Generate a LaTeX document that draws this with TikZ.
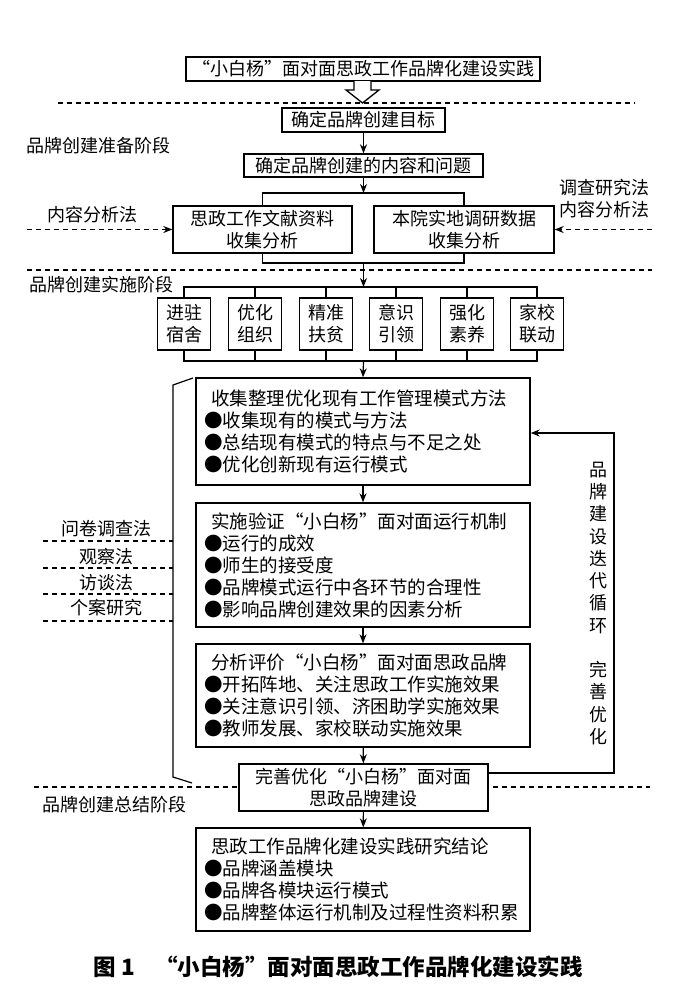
\documentclass[tikz,border=0pt]{standalone}
\usepackage{fontspec}
\setmainfont{Noto Sans CJK SC}
\usetikzlibrary{arrows.meta}
\newcommand\fsz{\fontsize{18pt}{22pt}\selectfont}
\newcommand\fszb{\fontsize{18.5pt}{22pt}\selectfont}
\tikzset{
  box/.style={draw, line width=1.4pt, fill=white, inner sep=0pt, font=\fsz, align=center},
  bigbox/.style={draw, line width=1.4pt, fill=white, inner xsep=8pt, inner ysep=0pt, font=\fszb,
     text width=318pt, align=left, minimum width=334pt},
  conn/.style={line width=1.2pt},
  arr/.style={conn, -{Stealth[length=9pt,width=7pt]}},
  dline/.style={line width=1.2pt, dash pattern=on 5pt off 4pt},
  lbl/.style={font=\fsz, inner sep=0pt, align=center},
}
\begin{document}
\begin{tikzpicture}[x=1pt,y=-1pt]
\path[use as bounding box] (0,0) rectangle (700,999);

% dashed separators
\draw[dline] (58,103) -- (635,103);
\draw[dline] (27,270) -- (652,270);
\draw[dline] (34,787) -- (650,787);

% title
\node[box, minimum width=354pt, minimum height=24pt] (t) at (363,69) {“小白杨”面对面思政工作品牌化建设实践};
\draw[line width=1.3pt, fill=white] (354,81) -- (354,90) -- (346,90) -- (362.5,103) -- (379,90) -- (371,90) -- (371,81);

% preparation stage
\node[lbl] (p1) at (99,146) {品牌创建准备阶段};
\node[box, minimum width=163pt, minimum height=24pt] (g1) at (363.5,120) {确定品牌创建目标};
\node[box, minimum width=239pt, minimum height=23pt] (g2) at (363.5,165.5) {确定品牌创建的内容和问题};
\draw[arr] (g1) -- (g2);
\coordinate (j1) at (363.5,193);
\draw[arr] (g2) -- (j1);
\node[box, minimum width=179pt, minimum height=47pt] (L) at (262.5,229.5) {思政工作文献资料\\收集分析};
\node[box, minimum width=180pt, minimum height=47pt] (R) at (464,229.5) {本院实地调研数据\\收集分析};
\draw[conn] (L.north) |- (j1) -| (R.north);
\coordinate (j2) at (363.5,263);
\draw[conn] (L.south) |- (j2) -| (R.south);
\coordinate (j3) at (363.5,287);
\draw[arr] (j2) -- (j3);

\node[lbl] (m1) at (92,215) {内容分析法};
\node[lbl] (m2) at (604,199) {调查研究法\\内容分析法};
\coordinate (la) at (27,229.5);
\coordinate (ra) at (652,229.5);
\draw[dline, -{Stealth[length=9pt,width=7pt]}] (la) -- (L.west);
\draw[dline, -{Stealth[length=9pt,width=7pt]}] (ra) -- (R.east);

% implementation stage
\node[lbl] (p2) at (101,285) {品牌创建实施阶段};
\foreach \n/\x/\txt in {1/184/进驻\\宿舍, 2/255/优化\\组织, 3/326/精准\\扶贫, 4/396/意识\\引领, 5/467/强化\\素养, 6/537/家校\\联动}{
  \node[box, minimum width=53pt, minimum height=52pt] (s\n) at (\x,324) {\txt};
}
\coordinate (j4) at (363.5,361);
\draw[conn] (s1.north) |- (j3) -| (s6.north);
\draw[conn] (s1.south) |- (j4) -| (s6.south);
\foreach \n in {2,3,4,5}{
  \draw[conn] (s\n.north) -- (s\n.north |- j3);
  \draw[conn] (s\n.south) -- (s\n.south |- j4);
}

\node[bigbox, minimum height=107pt] (b1) at (363,431.5) {\hspace{7pt}收集整理优化现有工作管理模式方法\\●收集现有的模式与方法\\●总结现有模式的特点与不足之处\\●优化创新现有运行模式};
\draw[arr] (j4) -- (b1.north);
\node[bigbox, minimum height=124pt] (b2) at (363,565) {\hspace{7pt}实施验证“小白杨”面对面运行机制\\●运行的成效\\●师生的接受度\\●品牌模式运行中各环节的合理性\\●影响品牌创建效果的因素分析};
\node[bigbox, minimum height=103pt] (b3) at (363,695.5) {\hspace{7pt}分析评价“小白杨”面对面思政品牌\\●开拓阵地、关注思政工作实施效果\\●关注意识引领、济困助学实施效果\\●教师发展、家校联动实施效果};
\node[box, minimum width=249pt, minimum height=47pt] (b4) at (363.5,787.5) {完善优化“小白杨”面对面\\思政品牌建设};
\node[bigbox, minimum height=103pt] (b5) at (363,879.5) {\hspace{7pt}思政工作品牌化建设实践研究结论\\●品牌涵盖模块\\●品牌各模块运行模式\\●品牌整体运行机制及过程性资料积累};
\draw[arr] (b1) -- (b2);
\draw[arr] (b2) -- (b3);
\draw[arr] (b3) -- (b4);
\draw[arr] (b4) -- (b5);

% iteration loop
\coordinate (lp1) at (614,773);
\coordinate (lp2) at (614,433);
\draw[arr] (b4.east |- lp1) -- (lp1) -- (lp2) -- (b1.east |- lp2);
\node[lbl, font=\fontsize{18pt}{22.25pt}\selectfont] (vt) at (598,603.5) {品\\牌\\建\\设\\迭\\代\\循\\环\\\phantom{完}\\完\\善\\优\\化};

% left bracket and methods
\coordinate (bk1) at (193,378);
\coordinate (bk2) at (173,385);
\coordinate (bk3) at (173,777);
\coordinate (bk4) at (192,783);
\draw[conn] (bk1) -- (bk2) -- (bk3) -- (bk4);
\foreach \y/\ly/\txt in {541/529/问卷调查法, 568/557/观察法, 594/583/访谈法, 621/608/个案研究}{
  \node[lbl] at (106,\ly) {\txt};
  \draw[dline] (43,\y) -- (bk2 |- 0,\y);
}

% summary stage
\node[lbl] (p3) at (114,805) {品牌创建总结阶段};

% caption
\node[lbl, font=\fontsize{22.5pt}{26pt}\selectfont\bfseries] (cap) at (338,967) {图 1\hspace{0.9em}“小白杨”面对面思政工作品牌化建设实践};
\end{tikzpicture}
\end{document}
